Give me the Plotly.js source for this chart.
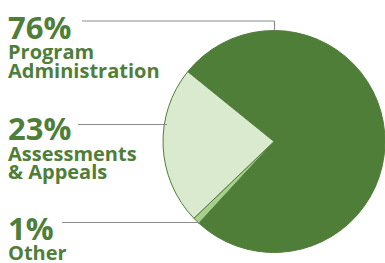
<!DOCTYPE html>
<html>
<head>
<meta charset="utf-8">
<script src="https://cdn.plot.ly/plotly-3.0.1.min.js"></script>
<style>html,body{margin:0;padding:0;background:#fff;}#chart{width:385px;height:263px;}</style>
</head>
<body>
<div id="chart"></div>
<script>
const categories = ["Program Administration", "Other", "Assessments & Appeals"];
const percentLabels = ["76%", "1%", "23%"];
const nameLines = [["Program", "Administration"], ["Other"], ["Assessments", "& Appeals"]];
const values = [76, 1, 23];
const sliceColors = ["#4f7e39", "#a6d08c", "#d9eacf"];

const green = "#4f7e39";
const font = "'Open Sans', Lato, sans-serif";

// label anchor positions (px from top) for each category
const labelPos = [
  {pctTop: 4, lineTops: [36, 55]},
  {pctTop: 205, lineTops: [237]},
  {pctTop: 105, lineTops: [138, 156]}
];

const W = 385, H = 263;
const px = x => x / W;
const py = y => 1 - y / H;

const annotations = [];
categories.forEach((c, i) => {
  annotations.push({
    xref: 'paper', yref: 'paper', x: px(6), y: py(labelPos[i].pctTop),
    xanchor: 'left', yanchor: 'top', showarrow: false, align: 'left',
    text: '<b>' + percentLabels[i] + '</b>',
    font: {family: font, size: 31, color: green}
  });
  nameLines[i].forEach((ln, j) => {
    annotations.push({
      xref: 'paper', yref: 'paper', x: px(6), y: py(labelPos[i].lineTops[j]),
      xanchor: 'left', yanchor: 'top', showarrow: false, align: 'left',
      text: '<b>' + ln + '</b>',
      font: {family: font, size: 20, color: green}
    });
  });
});

const lineColor = "#8c8c8c";
const shapes = [
  {type: 'line', xref: 'paper', yref: 'paper', x0: px(82), x1: px(274.5), y0: py(21), y1: py(21), line: {color: lineColor, width: 1.2}},
  {type: 'line', xref: 'paper', yref: 'paper', x0: px(274.5), x1: px(274.5), y0: py(21), y1: py(31), line: {color: lineColor, width: 1.2}},
  {type: 'line', xref: 'paper', yref: 'paper', x0: px(78), x1: px(167), y0: py(124.5), y1: py(124.5), line: {color: lineColor, width: 1.2}},
  {type: 'line', xref: 'paper', yref: 'paper', x0: px(62), x1: px(200), y0: py(222.5), y1: py(222.5), line: {color: lineColor, width: 1.2}}
];

const trace = {
  type: 'pie',
  labels: categories,
  values: values,
  sort: false,
  direction: 'clockwise',
  rotation: -51,
  textinfo: 'none',
  hoverinfo: 'label+percent',
  marker: {colors: sliceColors, line: {color: green, width: 1}},
  domain: {x: [px(163), 1], y: [py(252.5), py(30.5)]},
  showlegend: false
};

const layout = {
  width: W, height: H,
  margin: {l: 0, r: 0, t: 0, b: 0},
  paper_bgcolor: '#fff',
  showlegend: false,
  annotations: annotations,
  shapes: shapes
};

Plotly.newPlot('chart', [trace], layout, {displayModeBar: false, staticPlot: true});
</script>
</body>
</html>
